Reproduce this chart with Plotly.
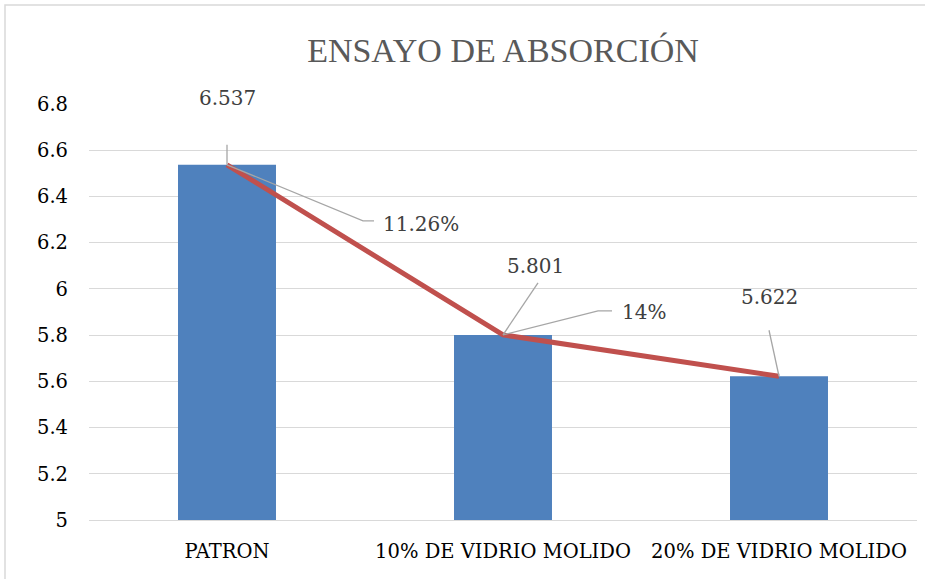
import plotly.graph_objects as go

categories = ["PATRON", "10% DE VIDRIO MOLIDO", "20% DE VIDRIO MOLIDO"]
values = [6.537, 5.801, 5.622]
value_labels = ["6.537", "5.801", "5.622"]
change_labels = ["11.26%", "14%"]
y_ticks = [5, 5.2, 5.4, 5.6, 5.8, 6, 6.2, 6.4, 6.6, 6.8]
y_tick_text = ["5", "5.2", "5.4", "5.6", "5.8", "6", "6.2", "6.4", "6.6", "6.8"]

FONT = "DejaVu Serif"
TFONT = "Liberation Serif"
W, H = 925, 579
ML, MR, MT, MB = 89, 8, 104, 59

fig = go.Figure()
fig.add_trace(go.Bar(x=categories, y=values, marker_color="#4F81BD",
                     marker_line_width=0, showlegend=False))
fig.add_trace(go.Scatter(x=categories, y=values, mode="lines",
                         line=dict(color="#C0504D", width=5), showlegend=False))

gray = "#A6A6A6"
txt = "#404040"
shapes = []
annotations = []

# value labels: (index, text xshift, text yshift, leader path)
val_specs = [
    (0, 0, 67, "M0,0 L0,20"),
    (1, 32, 69, "M0,0 L35,52"),
    (2, -10, 79, "M0,0 L-10,46"),
]
for (i, xs, ys, path), lab in zip(val_specs, value_labels):
    annotations.append(dict(x=categories[i], y=values[i], xref="x", yref="y",
                            text=lab, showarrow=False, xshift=xs, yshift=ys,
                            font=dict(family=FONT, size=20, color=txt)))
    shapes.append(dict(type="path", xref="x", yref="y", xsizemode="pixel",
                       ysizemode="pixel", xanchor=i, yanchor=values[i], path=path,
                       line=dict(color=gray, width=1.3)))

# percentage labels
pct_specs = [
    (0, 154, -59, "M0,0 L136,-56 L147,-56"),
    (1, 117, 23, "M0,0 L95,24 L109,24"),
]
for (i, xs, ys, path), lab in zip(pct_specs, change_labels):
    annotations.append(dict(x=categories[i], y=values[i], xref="x", yref="y",
                            text=lab, showarrow=False, xshift=xs, yshift=ys,
                            xanchor="left",
                            font=dict(family=FONT, size=20, color=txt)))
    shapes.append(dict(type="path", xref="x", yref="y", xsizemode="pixel",
                       ysizemode="pixel", xanchor=i, yanchor=values[i], path=path,
                       line=dict(color=gray, width=1.3)))

pw = W - ML - MR
ph = H - MT - MB
shapes.append(dict(type="rect", xref="paper", yref="paper",
                   x0=-(ML - 5) / pw, x1=(W - ML + 5) / pw,
                   y0=-(MB + 5) / ph, y1=1 + (MT - 5) / ph,
                   line=dict(color="#D9D9D9", width=1.5), layer="below"))

fig.update_layout(
    width=W, height=H,
    margin=dict(l=ML, r=MR, t=MT, b=MB),
    paper_bgcolor="white", plot_bgcolor="white",
    bargap=0.645,
    title=dict(text="ENSAYO DE ABSORCIÓN", x=0.5, xref="paper", xanchor="center",
               y=1 - 50 / H, yanchor="middle",
               font=dict(family=TFONT, size=34, color="#595959")),
    xaxis=dict(showgrid=False, showline=True, linecolor="#D9D9D9", linewidth=1,
               ticks="", ticklabelstandoff=14,
               tickfont=dict(family=FONT, size=19.5, color="#000000")),
    yaxis=dict(range=[5, 6.8], tickvals=y_ticks, ticktext=y_tick_text,
               showgrid=True, gridcolor="#D9D9D9", gridwidth=1.3,
               zeroline=False, showline=False, ticks="", ticklabelstandoff=20,
               tickfont=dict(family=FONT, size=19.5, color="#000000")),
    shapes=shapes,
    annotations=annotations,
)

fig.write_html("out.html", config={"displayModeBar": False},
               post_script="document.body.style.margin='0';")
